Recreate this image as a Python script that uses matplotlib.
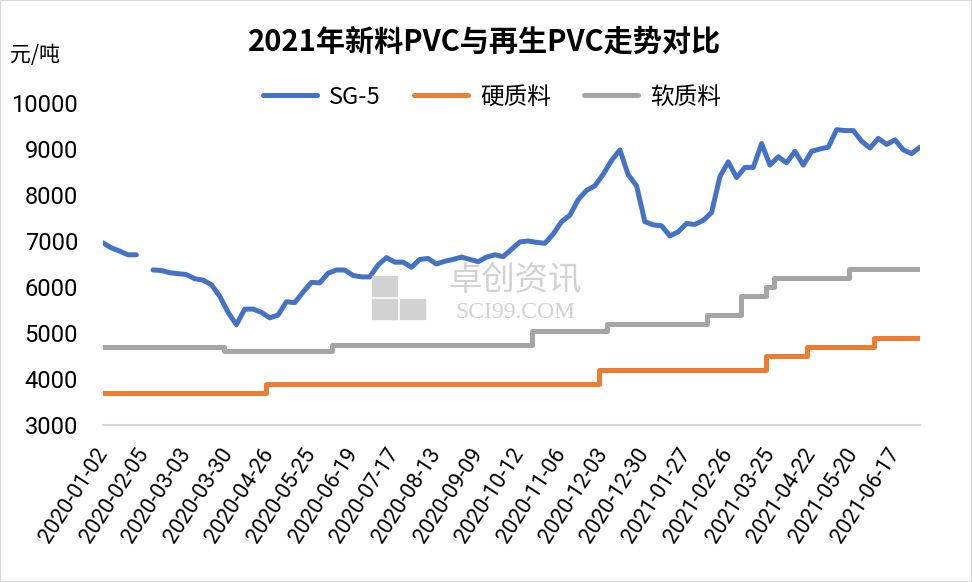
import numpy as np
import matplotlib
matplotlib.use('Agg')
import matplotlib.pyplot as plt
from matplotlib.patches import Rectangle

plt.rcParams['font.family'] = ['Roboto', 'Noto Sans CJK SC', 'DejaVu Sans']
cjk = ['Noto Sans CJK SC', 'DejaVu Sans']

# x tick labels (one label every 5 points)
date_labels = ['2020-01-02', '2020-02-05', '2020-03-03', '2020-03-30', '2020-04-26',
               '2020-05-25', '2020-06-19', '2020-07-17', '2020-08-13', '2020-09-09',
               '2020-10-12', '2020-11-06', '2020-12-03', '2020-12-30', '2021-01-27',
               '2021-02-26', '2021-03-25', '2021-04-22', '2021-05-20', '2021-06-17']

# SG-5 price (nan = no quote)
sg5 = [6960, 6850, 6780, 6700, 6700, np.nan, 6370, 6360, 6310, 6290,
       6270, 6180, 6150, 6050, 5800, 5450, 5180, 5520, 5520, 5450,
       5330, 5390, 5680, 5660, 5890, 6100, 6090, 6300, 6370, 6370,
       6250, 6220, 6220, 6480, 6640, 6540, 6540, 6430, 6600, 6620,
       6500, 6560, 6600, 6650, 6600, 6550, 6650, 6700, 6660, 6820,
       6980, 7000, 6970, 6950, 7150, 7420, 7560, 7900, 8100, 8200,
       8450, 8750, 8980, 8440, 8200, 7420, 7350, 7330, 7110, 7200,
       7380, 7360, 7450, 7620, 8400, 8720, 8380, 8600, 8600, 9120,
       8650, 8830, 8700, 8950, 8650, 8950, 9000, 9040, 9420, 9400,
       9400, 9170, 9020, 9230, 9100, 9200, 8980, 8900, 9040]

# recycled PVC prices: price level and number of points at that level
hard_levels = [3700, 3900, 4200, 4500, 4700, 4900]
hard_runs = [20, 40, 20, 5, 8, 6]
soft_levels = [4700, 4600, 4750, 5050, 5200, 5400, 5800, 6000, 6200, 6400]
soft_runs = [15, 13, 24, 9, 12, 4, 3, 1, 9, 9]

hard = np.repeat(hard_levels, hard_runs)
soft = np.repeat(soft_levels, soft_runs)
x = np.arange(len(sg5))

fig = plt.figure(figsize=(9.72, 5.82), dpi=100)
ax = fig.add_axes([103/972, 1-425/582, (920-103)/972, (425-103)/582])

ax.plot(x, sg5, color='#4472C4', lw=3.6, label='SG-5',
        solid_capstyle='round', solid_joinstyle='round')
ax.plot(x, hard, color='#ED7D31', lw=3.6, label='硬质料', drawstyle='steps-mid',
        solid_capstyle='round')
ax.plot(x, soft, color='#A5A5A5', lw=3.6, label='软质料', drawstyle='steps-mid',
        solid_capstyle='round')

ax.set_xlim(0, len(sg5) - 1)
ax.set_ylim(3000, 10000)
ax.set_yticks(range(3000, 10001, 1000))
ax.set_xticks(x[::5])
ax.set_xticklabels(date_labels, rotation=57, ha='right', va='center',
                   rotation_mode='anchor', fontsize=15.5)
ax.tick_params(axis='y', length=0, labelsize=17, pad=18)
ax.tick_params(axis='x', length=0, pad=18)
for s in ['top', 'right', 'left']:
    ax.spines[s].set_visible(False)
ax.spines['bottom'].set_color('#D9D9D9')
ax.spines['bottom'].set_linewidth(1.5)
ax.patch.set_alpha(0)

# watermark
wm = '#D2D2D2'
for (lx, ly, w, h) in [(372, 276, 25, 20), (372, 299, 25, 20), (400, 299, 25, 20)]:
    fig.patches.append(Rectangle((lx/972, 1-(ly+h)/582), w/972, h/582,
                                 transform=fig.transFigure, color=wm, zorder=0))
fig.text(515/972, 1-280/582, '卓创资讯', family=cjk, fontsize=24, color=wm,
         ha='center', va='center', zorder=0)
fig.text(515/972, 1-313/582, 'SCI99.COM', family=['Liberation Serif'], fontsize=17,
         color=wm, ha='center', va='center', zorder=0)

fig.suptitle('2021年新料PVC与再生PVC走势对比', x=485/972, y=1-42/582,
             family=cjk, fontsize=21, fontweight='bold', va='center')
fig.text(10/972, 1-55/582, '元/吨', family=cjk, fontsize=15, va='center', ha='left')

leg = fig.legend(loc='center', bbox_to_anchor=(492/972, 1-97/582), ncol=3,
                 frameon=False, prop={'family': cjk, 'size': 17},
                 handlelength=2.3, columnspacing=1.4, handletextpad=0.5)

fig.patches.append(Rectangle((0, 0), 1, 1, transform=fig.transFigure,
                             fill=False, edgecolor='#D9D9D9', lw=1.5))

fig.savefig('out.png', dpi=100)
